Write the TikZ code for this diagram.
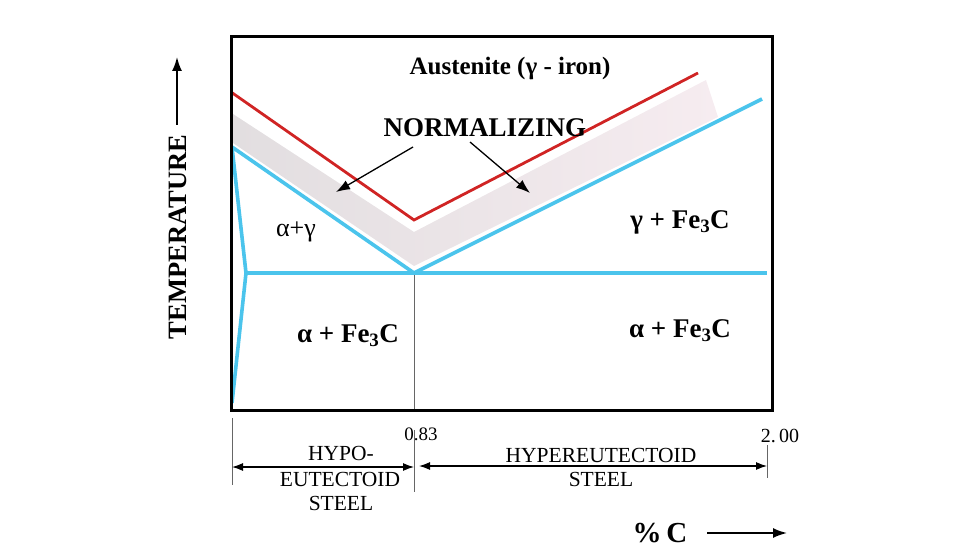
\documentclass[tikz,border=0pt]{standalone}
\usepackage{fontspec}
\setmainfont{Liberation Serif}
\usetikzlibrary{arrows.meta}
\definecolor{cyanline}{RGB}{75,196,236}
\definecolor{redline}{RGB}{208,36,36}
\definecolor{bandgray}{RGB}{226,222,224}
\definecolor{bandpink}{RGB}{246,236,240}
\tikzset{
  bluecurve/.style={draw=cyanline,line width=3.6pt,line join=miter},
  redcurve/.style={draw=redline,line width=2.8pt},
  tickline/.style={draw=black!60,line width=0.8pt},
  dimarrow/.style={draw=black,line width=1.2pt,{Latex[length=11pt,width=8pt]}-{Latex[length=11pt,width=8pt]}},
  ptr/.style={draw=black,line width=1.3pt,-{Latex[length=14pt,width=10pt]}},
  lab/.style={inner sep=0pt,font=\fontsize{21.5}{23}\selectfont},
  blab/.style={inner sep=0pt,font=\fontsize{27}{29}\selectfont\bfseries}
}
\begin{document}
\begin{tikzpicture}[x=1pt,y=-1pt]
\useasboundingbox (0,0) rectangle (979,553);
% band
\shade[left color=bandgray,middle color=bandgray,right color=bandpink,shading angle=90]
  (233,114) -- (414,232) -- (706,80) -- (718,117) -- (414,266) -- (233,143) -- cycle;
% key points
\coordinate (rL) at (231,92);
\coordinate (rV) at (414,220);
\coordinate (rR) at (698,73);
\coordinate (bL) at (232,147);
\coordinate (bV) at (414,273);
\coordinate (bR) at (762,99);
\coordinate (bJ) at (246,273);
\coordinate (bB) at (232,403);
\coordinate (hR) at (767,273);
% curves
\draw[redcurve] (rL) -- (rV) -- (rR);
\draw[tickline] (bV) -- (414,410);
\draw[bluecurve] (bL) -- (bV) -- (bR);
\draw[bluecurve] (bL) -- (bJ) -- (bB);
\draw[bluecurve] (bJ) -- (hR);
% frame
\draw[line width=3pt] (231,37) rectangle (772,410);
% texts
\node[blab,font=\fontsize{25}{27}\selectfont\bfseries] (aus) at (510,68) {Austenite (γ - iron)};
\node[blab,font=\fontsize{27}{29}\selectfont\bfseries] (norm) at (485,128) {NORMALIZING};
\coordinate (p1s) at (413,147); \coordinate (p1e) at (336,192);
\coordinate (p2s) at (470,142); \coordinate (p2e) at (530,193);
\draw[ptr] (p1s) -- (p1e);
\draw[ptr] (p2s) -- (p2e);
\node[lab,font=\fontsize{26}{28}\selectfont] (ag) at (296,232) {α+γ};
\node[blab] (gf) at (680,222) {γ + Fe\textsubscript{3}C};
\node[blab] (af1) at (348,336) {α + Fe\textsubscript{3}C};
\node[blab] (af2) at (680,331) {α + Fe\textsubscript{3}C};
% bottom scale
\draw[tickline] (232,418) -- (232,485);
\draw[tickline] (414,430) -- (414,492);
\draw[tickline] (767,445) -- (767,478);
\node[lab,font=\fontsize{19}{21}\selectfont] (t083) at (421,434) {0.83};
\node[lab,font=\fontsize{20}{22}\selectfont] (t200) at (780,436) {2.\,00};
\coordinate (d1) at (232,467); \coordinate (d2) at (414,467);
\coordinate (d3) at (419,466); \coordinate (d4) at (767,466);
\draw[dimarrow] (d1) -- (d2);
\draw[dimarrow] (d3) -- (d4);
\node[lab] (hypo) at (341,453) {HYPO-};
\node[lab] (eut) at (340,479) {EUTECTOID};
\node[lab] (st1) at (341,503) {STEEL};
\node[lab] (hyper) at (601,455) {HYPEREUTECTOID};
\node[lab] (st2) at (601,479) {STEEL};
\node[blab,font=\fontsize{29}{31}\selectfont\bfseries] (pc) at (660,533) {\%\,C};
\coordinate (xa1) at (707,533); \coordinate (xa2) at (787,533);
\draw[line width=1.8pt,-{Latex[length=14pt,width=10pt]}] (xa1) -- (xa2);
% temperature
\node[blab,font=\fontsize{26.5}{28}\selectfont\bfseries,rotate=90] (temp) at (178,237) {TEMPERATURE};
\coordinate (ya1) at (177,125); \coordinate (ya2) at (177,57);
\draw[line width=1.8pt,-{Latex[length=14pt,width=10pt]}] (ya1) -- (ya2);
\end{tikzpicture}
\end{document}
